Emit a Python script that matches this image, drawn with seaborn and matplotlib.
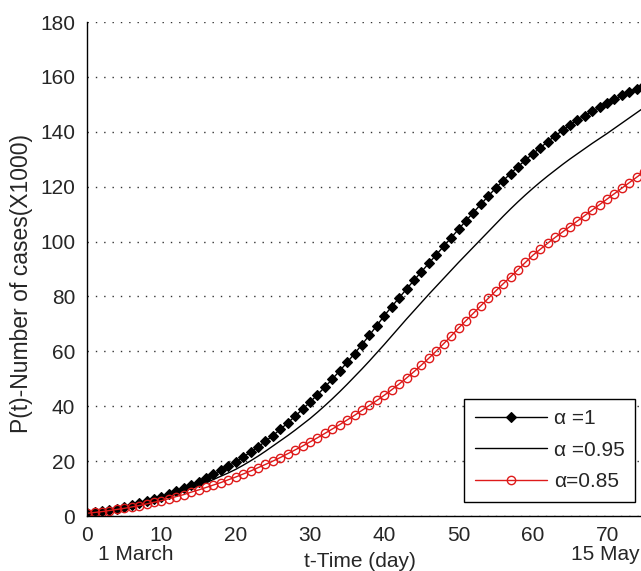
import numpy as np
import matplotlib
matplotlib.use("Agg")
import matplotlib.pyplot as plt
import matplotlib.transforms as mtransforms
import seaborn as sns

# days since 1 March
days = list(range(0, 76))

# alpha = 1 (black with markers)
p_alpha_1 = [1.0, 1.4, 1.8, 2.2, 2.7, 3.3, 3.9, 4.6, 5.3, 6.1,
             7.0, 8.0, 9.0, 10.1, 11.3, 12.5, 13.8, 15.2, 16.7, 18.2,
             19.8, 21.5, 23.3, 25.2, 27.2, 29.3, 31.6, 33.9, 36.4, 38.9,
             41.5, 44.2, 47.0, 49.9, 52.9, 56.0, 59.2, 62.5, 65.9, 69.4,
             73.0, 76.3, 79.5, 82.7, 85.9, 89.0, 92.1, 95.2, 98.3, 101.4,
             104.5, 107.6, 110.6, 113.6, 116.6, 119.5, 122.2, 124.8, 127.3, 129.7,
             132.0, 134.2, 136.4, 138.5, 140.5, 142.5, 144.3, 145.9, 147.5, 149.0,
             150.5, 151.9, 153.3, 154.6, 155.8, 157.0]

# alpha = 0.95 (black solid)
p_alpha_095 = [1.0, 1.3, 1.7, 2.1, 2.5, 3.0, 3.6, 4.2, 4.8, 5.5,
               6.3, 7.2, 8.1, 9.0, 10.0, 11.0, 12.1, 13.3, 14.5, 15.7,
               17.0, 18.5, 20.1, 21.8, 23.6, 25.5, 27.4, 29.3, 31.3, 33.4,
               35.5, 37.8, 40.2, 42.7, 45.3, 48.0, 50.8, 53.6, 56.5, 59.5,
               62.5, 65.6, 68.7, 71.8, 74.8, 77.8, 80.8, 83.7, 86.6, 89.5,
               92.4, 95.2, 98.0, 100.8, 103.6, 106.4, 109.2, 111.9, 114.5, 117.0,
               119.4, 121.7, 123.9, 126.0, 128.1, 130.1, 132.0, 133.9, 135.8, 137.6,
               139.4, 141.3, 143.2, 145.1, 147.0, 148.9]

# alpha = 0.85 (red circles)
p_alpha_085 = [1.0, 1.3, 1.6, 2.0, 2.4, 2.8, 3.3, 3.8, 4.4, 5.0,
               5.6, 6.3, 7.1, 7.8, 8.7, 9.5, 10.4, 11.3, 12.2, 13.2,
               14.2, 15.3, 16.4, 17.6, 18.8, 20.0, 21.3, 22.7, 24.1, 25.5,
               27.0, 28.5, 30.1, 31.7, 33.3, 35.0, 36.7, 38.5, 40.3, 42.1,
               44.0, 46.0, 48.1, 50.3, 52.6, 55.0, 57.5, 60.1, 62.8, 65.6,
               68.5, 71.2, 73.9, 76.6, 79.3, 82.0, 84.6, 87.2, 89.8, 92.4,
               95.0, 97.2, 99.4, 101.5, 103.5, 105.5, 107.5, 109.5, 111.5, 113.5,
               115.5, 117.5, 119.5, 121.5, 123.5, 125.5]

legend_labels = ["\u03b1 =1", "\u03b1 =0.95", "\u03b1=0.85"]
y_ticks = list(range(0, 181, 20))
x_ticks = list(range(0, 71, 10))

sns.set_style("white")
plt.rcParams['font.family'] = ['Liberation Sans', 'DejaVu Sans']

fig = plt.figure(figsize=(6.41, 5.71), dpi=100)
ax = fig.add_axes([0.136, 0.0963, 0.869, 0.865])

sns.lineplot(x=days, y=p_alpha_1, ax=ax, color='black', linewidth=1.0,
             marker='D', markersize=4.8, markeredgewidth=0.8,
             markerfacecolor='black', markeredgecolor='black',
             label=legend_labels[0], estimator=None)
sns.lineplot(x=days, y=p_alpha_095, ax=ax, color='black', linewidth=1.0,
             label=legend_labels[1], estimator=None)
sns.lineplot(x=days, y=p_alpha_085, ax=ax, color='#de1a1a', linewidth=1.0,
             marker='o', markersize=6, markeredgewidth=1.0,
             markerfacecolor='none', markeredgecolor='#de1a1a',
             label=legend_labels[2], estimator=None)

ax.set_xlim(0, 75)
ax.set_ylim(0, 180)
ax.set_xticks(x_ticks)
ax.set_yticks(y_ticks)
ax.tick_params(direction='in', length=5, width=1, labelsize=15)
ax.tick_params(axis='y', pad=8.5)
ax.tick_params(axis='x', pad=7.5)

# horizontal dotted grid only
ax.yaxis.grid(True, linestyle=(0, (1, 5)), color='#333333', linewidth=1.0)
ax.xaxis.grid(False)

for s in ['top', 'right']:
    ax.spines[s].set_visible(False)
for s in ['left', 'bottom']:
    ax.spines[s].set_color('black')
    ax.spines[s].set_linewidth(1.0)

ax.set_ylabel("P(t)-Number of cases(X1000)", fontsize=16.5)
ax.yaxis.set_label_coords(-0.097, 0.47)
ax.set_xlabel("t-Time (day)", fontsize=15)
ax.xaxis.set_label_coords(0.49, -0.072)

trans = mtransforms.blended_transform_factory(ax.transData, ax.transAxes)
ax.text(1.5, -0.058, "1 March", transform=trans, fontsize=15, ha='left', va='top')
ax.text(74.4, -0.058, "15 May", transform=trans, fontsize=15, ha='right', va='top')

leg = ax.legend(loc='lower right', bbox_to_anchor=(1.002, 0.008), fontsize=15,
                frameon=True, fancybox=False, edgecolor='black',
                handlelength=3.5, borderpad=0.5, labelspacing=0.6,
                handletextpad=0.3)
leg.get_frame().set_linewidth(1.0)
leg.get_frame().set_alpha(1.0)

fig.savefig("out.png", dpi=100)
